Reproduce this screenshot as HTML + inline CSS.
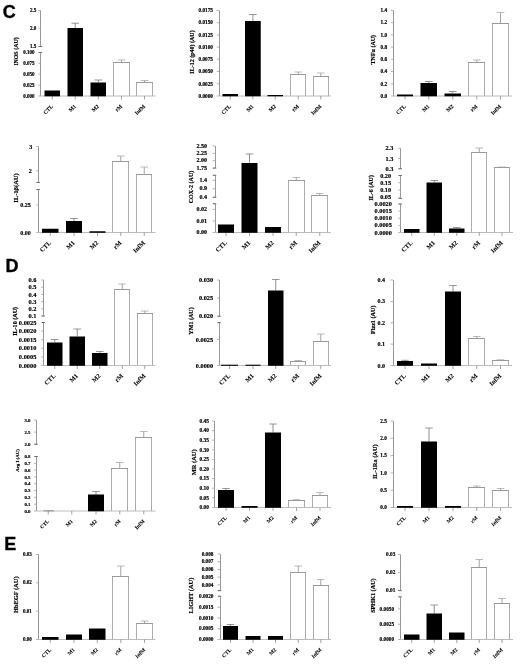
<!DOCTYPE html>
<html lang="en">
<head>
<meta charset="utf-8">
<title>Figure panels C, D, E</title>
<style>
html,body{margin:0;padding:0;background:#fff;}
body{width:520px;height:664px;overflow:hidden;}
svg{display:block;filter:blur(0.3px);}
svg text{font-family:"Liberation Serif","DejaVu Serif",serif;font-weight:bold;fill:#000;stroke:#000;stroke-width:0.18px;}
svg .xl text{stroke-width:0.08px;}
svg text.panel{font-family:"Liberation Sans","DejaVu Sans",sans-serif;font-weight:bold;stroke:#000;stroke-width:0.35px;}
</style>
</head>
<body>
<svg width="520" height="664" viewBox="0 0 520 664">
<rect width="520" height="664" fill="#fff"/>
<text class="panel" x="2.7" y="17.9" font-size="18">C</text>
<text class="panel" x="5.6" y="272.4" font-size="18">D</text>
<text class="panel" x="4.2" y="549.6" font-size="18">E</text>
<g>
<path d="M121.5 62V60" stroke="#868686" stroke-width="0.75" fill="none"/>
<path d="M117.7 60H125.3" stroke="#a4a4a4" stroke-width="0.75" fill="none"/>
<path d="M113.5 96V62.5H129.5V96" fill="#fff" stroke="#ababab" stroke-width="1"/>
<path d="M113 62.5H130" stroke="#999" stroke-width="1"/>
<path d="M144.5 82V80.5" stroke="#868686" stroke-width="0.75" fill="none"/>
<path d="M140.7 80.5H148.3" stroke="#a4a4a4" stroke-width="0.75" fill="none"/>
<path d="M136.5 96V82.5H152.5V96" fill="#fff" stroke="#ababab" stroke-width="1"/>
<path d="M136 82.5H153" stroke="#999" stroke-width="1"/>
<path d="M40.5 10.5V46.5M40.5 52.5V96" stroke="#989898" stroke-width="1" fill="none"/>
<path d="M40.8 96H155.5" stroke="#b4b4b4" stroke-width="0.9" fill="none"/>
<path d="M38.3 10.5H40.8M38.3 28.2H40.8M38.3 46.5H40.8M38.3 52.5H40.8M38.3 63.3H40.8M38.3 74.2H40.8M38.3 85.1H40.8M38.3 96H40.8" stroke="#a8a8a8" stroke-width="0.85" fill="none"/>
<path d="M52.25 96V99.4M75.25 96V99.4M98.25 96V99.4M121.5 96V99.4M144.5 96V99.4" stroke="#8a8a8a" stroke-width="0.8" fill="none"/>
<path d="M38.8 46.5H42.1M38.8 52.5H42.1" stroke="#666" stroke-width="0.9" fill="none"/>
<rect x="44.5" y="90.5" width="15.5" height="5.8" fill="#000"/>
<path d="M75.25 28V23.2" stroke="#606060" stroke-width="0.7" fill="none"/>
<path d="M71.45 23.2H79.05" stroke="#6c6c6c" stroke-width="0.7" fill="none"/>
<rect x="67.5" y="28" width="15.5" height="68.3" fill="#000"/>
<path d="M98.25 82.5V80" stroke="#606060" stroke-width="0.7" fill="none"/>
<path d="M94.45 80H102.05" stroke="#6c6c6c" stroke-width="0.7" fill="none"/>
<rect x="90.5" y="82.5" width="15.5" height="13.8" fill="#000"/>
<g font-size="5.06" text-anchor="end">
<text x="36.2" y="12.17">2.5</text>
<text x="36.2" y="29.87">2.0</text>
<text x="36.2" y="48.17">1.5</text>
<text x="34.6" y="54.17">0.100</text>
<text x="34.6" y="64.97">0.075</text>
<text x="34.6" y="75.87">0.050</text>
<text x="34.6" y="86.77">0.025</text>
<text x="34.6" y="97.67">0.000</text>
</g>
<text font-size="5.95" text-anchor="middle" transform="translate(18.21 51.25) rotate(-90)">iNOS (AU)</text>
<g class="xl" font-size="5.51" text-anchor="end">
<text transform="translate(53.45 106.7) rotate(-45)">CTL</text>
<text transform="translate(76.45 106.7) rotate(-45)">M1</text>
<text transform="translate(99.45 106.7) rotate(-45)">M2</text>
<text transform="translate(122.7 106.7) rotate(-45)">rM</text>
<text transform="translate(145.7 106.7) rotate(-45)">InfM</text>
</g>
</g>
<g>
<path d="M298.25 74.5V72" stroke="#868686" stroke-width="0.75" fill="none"/>
<path d="M294.45 72H302.05" stroke="#a4a4a4" stroke-width="0.75" fill="none"/>
<path d="M290.5 96V74.5H305.5V96" fill="#fff" stroke="#ababab" stroke-width="1"/>
<path d="M290 74.5H306" stroke="#999" stroke-width="1"/>
<path d="M320.75 76.5V73" stroke="#868686" stroke-width="0.75" fill="none"/>
<path d="M316.95 73H324.55" stroke="#a4a4a4" stroke-width="0.75" fill="none"/>
<path d="M313.5 96V76.5H328.5V96" fill="#fff" stroke="#ababab" stroke-width="1"/>
<path d="M313 76.5H329" stroke="#999" stroke-width="1"/>
<path d="M219.5 10.5V96" stroke="#989898" stroke-width="1" fill="none"/>
<path d="M219.3 96H331" stroke="#b4b4b4" stroke-width="0.9" fill="none"/>
<path d="M216.8 10.5H219.3M216.8 22.7H219.3M216.8 34.9H219.3M216.8 47.1H219.3M216.8 59.3H219.3M216.8 71.5H219.3M216.8 83.8H219.3M216.8 96H219.3" stroke="#a8a8a8" stroke-width="0.85" fill="none"/>
<path d="M230.25 96V99.4M252.88 96V99.4M275.25 96V99.4M298.25 96V99.4M320.75 96V99.4" stroke="#8a8a8a" stroke-width="0.8" fill="none"/>
<rect x="222.5" y="94" width="15.5" height="2.3" fill="#000"/>
<path d="M252.88 21V14.5" stroke="#606060" stroke-width="0.7" fill="none"/>
<path d="M249.07 14.5H256.68" stroke="#6c6c6c" stroke-width="0.7" fill="none"/>
<rect x="245" y="21" width="15.75" height="75.3" fill="#000"/>
<rect x="267.5" y="95" width="15.5" height="1.3" fill="#000"/>
<g font-size="5.28" text-anchor="end">
<text x="213" y="12.24">0.0175</text>
<text x="213" y="24.44">0.0150</text>
<text x="213" y="36.64">0.0125</text>
<text x="213" y="48.84">0.0100</text>
<text x="213" y="61.04">0.0075</text>
<text x="213" y="73.24">0.0050</text>
<text x="213" y="85.54">0.0025</text>
<text x="213" y="97.74">0.0000</text>
</g>
<text font-size="6" text-anchor="middle" transform="translate(193.88 52) rotate(-90)">IL-12 (p40) (AU)</text>
<g class="xl" font-size="5.51" text-anchor="end">
<text transform="translate(231.45 106.7) rotate(-45)">CTL</text>
<text transform="translate(254.07 106.7) rotate(-45)">M1</text>
<text transform="translate(276.45 106.7) rotate(-45)">M2</text>
<text transform="translate(299.45 106.7) rotate(-45)">rM</text>
<text transform="translate(321.95 106.7) rotate(-45)">InfM</text>
</g>
</g>
<g>
<path d="M476.75 62V60" stroke="#868686" stroke-width="0.75" fill="none"/>
<path d="M472.95 60H480.55" stroke="#a4a4a4" stroke-width="0.75" fill="none"/>
<path d="M468.5 96V62.5H484.5V96" fill="#fff" stroke="#ababab" stroke-width="1"/>
<path d="M468 62.5H485" stroke="#999" stroke-width="1"/>
<path d="M500.5 23V12.5" stroke="#868686" stroke-width="0.75" fill="none"/>
<path d="M496.7 12.5H504.3" stroke="#a4a4a4" stroke-width="0.75" fill="none"/>
<path d="M492.5 96V23.5H508.5V96" fill="#fff" stroke="#ababab" stroke-width="1"/>
<path d="M492 23.5H509" stroke="#999" stroke-width="1"/>
<path d="M393.5 10.5V96" stroke="#989898" stroke-width="1" fill="none"/>
<path d="M393.4 96H512" stroke="#b4b4b4" stroke-width="0.9" fill="none"/>
<path d="M390.9 10.5H393.4M390.9 22.7H393.4M390.9 34.9H393.4M390.9 47.1H393.4M390.9 59.3H393.4M390.9 71.5H393.4M390.9 83.8H393.4M390.9 96H393.4" stroke="#a8a8a8" stroke-width="0.85" fill="none"/>
<path d="M405 96V99.4M428.75 96V99.4M452.75 96V99.4M476.75 96V99.4M500.5 96V99.4" stroke="#8a8a8a" stroke-width="0.8" fill="none"/>
<rect x="397" y="94.5" width="16" height="1.8" fill="#000"/>
<path d="M428.75 83V81.5" stroke="#606060" stroke-width="0.7" fill="none"/>
<path d="M424.95 81.5H432.55" stroke="#6c6c6c" stroke-width="0.7" fill="none"/>
<rect x="420.5" y="83" width="16.5" height="13.3" fill="#000"/>
<path d="M452.75 93.5V91.5" stroke="#606060" stroke-width="0.7" fill="none"/>
<path d="M448.95 91.5H456.55" stroke="#6c6c6c" stroke-width="0.7" fill="none"/>
<rect x="444.5" y="93.5" width="16.5" height="2.8" fill="#000"/>
<g font-size="5.28" text-anchor="end">
<text x="387.1" y="12.24">1.4</text>
<text x="387.1" y="24.44">1.2</text>
<text x="387.1" y="36.64">1.0</text>
<text x="387.1" y="48.84">0.8</text>
<text x="387.1" y="61.04">0.6</text>
<text x="387.1" y="73.24">0.4</text>
<text x="387.1" y="85.54">0.2</text>
<text x="387.1" y="97.74">0.0</text>
</g>
<text font-size="6" text-anchor="middle" transform="translate(374.98 49.7) rotate(-90)">TNFα (AU)</text>
<g class="xl" font-size="5.51" text-anchor="end">
<text transform="translate(406.2 106.7) rotate(-45)">CTL</text>
<text transform="translate(429.95 106.7) rotate(-45)">M1</text>
<text transform="translate(453.95 106.7) rotate(-45)">M2</text>
<text transform="translate(477.95 106.7) rotate(-45)">rM</text>
<text transform="translate(501.7 106.7) rotate(-45)">InfM</text>
</g>
</g>
<g>
<path d="M120.75 161V156" stroke="#868686" stroke-width="0.75" fill="none"/>
<path d="M116.95 156H124.55" stroke="#a4a4a4" stroke-width="0.75" fill="none"/>
<path d="M112.5 232.5V161.5H128.5V232.5" fill="#fff" stroke="#ababab" stroke-width="1"/>
<path d="M112 161.5H129" stroke="#999" stroke-width="1"/>
<path d="M144.25 174V167" stroke="#868686" stroke-width="0.75" fill="none"/>
<path d="M140.45 167H148.05" stroke="#a4a4a4" stroke-width="0.75" fill="none"/>
<path d="M136.5 232.5V174.5H151.5V232.5" fill="#fff" stroke="#ababab" stroke-width="1"/>
<path d="M136 174.5H152" stroke="#999" stroke-width="1"/>
<path d="M38.5 146.5V182.5M38.5 189.5V232.5" stroke="#989898" stroke-width="1" fill="none"/>
<path d="M38.7 232.5H155.5" stroke="#b4b4b4" stroke-width="0.9" fill="none"/>
<path d="M36.2 146.5H38.7M36.2 170.75H38.7M36.2 182.5H38.7M36.2 189.5H38.7M36.2 205H38.7M36.2 232.5H38.7" stroke="#a8a8a8" stroke-width="0.85" fill="none"/>
<path d="M50.25 232.5V235.9M74 232.5V235.9M97.5 232.5V235.9M120.75 232.5V235.9M144.25 232.5V235.9" stroke="#8a8a8a" stroke-width="0.8" fill="none"/>
<path d="M36.7 182.5H40M36.7 189.5H40" stroke="#666" stroke-width="0.9" fill="none"/>
<rect x="42" y="228.75" width="16.5" height="4.05" fill="#000"/>
<path d="M74 221V218.5" stroke="#606060" stroke-width="0.7" fill="none"/>
<path d="M70.2 218.5H77.8" stroke="#6c6c6c" stroke-width="0.7" fill="none"/>
<rect x="66" y="221" width="16" height="11.8" fill="#000"/>
<rect x="89.5" y="231.25" width="16" height="1.55" fill="#000"/>
<g font-size="6.05" text-anchor="end">
<text x="32.2" y="148.5">3</text>
<text x="31.9" y="172.75">2</text>
<text x="30.8" y="207">0.25</text>
<text x="30.8" y="234.5">0.00</text>
</g>
<text font-size="6.5" text-anchor="middle" transform="translate(17.64 188) rotate(-90)">IL-1β(AU)</text>
<g class="xl" font-size="6.36" text-anchor="end">
<text transform="translate(51.45 243.2) rotate(-45)">CTL</text>
<text transform="translate(75.2 243.2) rotate(-45)">M1</text>
<text transform="translate(98.7 243.2) rotate(-45)">M2</text>
<text transform="translate(121.95 243.2) rotate(-45)">rM</text>
<text transform="translate(145.45 243.2) rotate(-45)">InfM</text>
</g>
</g>
<g>
<path d="M296.25 180.5V177.5" stroke="#868686" stroke-width="0.75" fill="none"/>
<path d="M292.45 177.5H300.05" stroke="#a4a4a4" stroke-width="0.75" fill="none"/>
<path d="M288.5 232.5V180.5H304.5V232.5" fill="#fff" stroke="#ababab" stroke-width="1"/>
<path d="M288 180.5H305" stroke="#999" stroke-width="1"/>
<path d="M319.75 195.5V193.5" stroke="#868686" stroke-width="0.75" fill="none"/>
<path d="M315.95 193.5H323.55" stroke="#a4a4a4" stroke-width="0.75" fill="none"/>
<path d="M311.5 232.5V195.5H327.5V232.5" fill="#fff" stroke="#ababab" stroke-width="1"/>
<path d="M311 195.5H328" stroke="#999" stroke-width="1"/>
<path d="M215.5 146V168.1M215.5 175.25V197.25M215.5 203.75V232.5" stroke="#989898" stroke-width="1" fill="none"/>
<path d="M215 232.5H331" stroke="#b4b4b4" stroke-width="0.9" fill="none"/>
<path d="M212.5 146H215M212.5 153.4H215M212.5 160.7H215M212.5 168.1H215M212.5 175.25H215M212.5 180.3H215M212.5 188.8H215M212.5 197.25H215M212.5 203.75H215M212.5 209.4H215M212.5 221H215M212.5 232.5H215" stroke="#a8a8a8" stroke-width="0.85" fill="none"/>
<path d="M226 232.5V235.9M249.5 232.5V235.9M273 232.5V235.9M296.25 232.5V235.9M319.75 232.5V235.9" stroke="#8a8a8a" stroke-width="0.8" fill="none"/>
<path d="M213 168.1H216.3M213 175.25H216.3M213 197.25H216.3M213 203.75H216.3" stroke="#666" stroke-width="0.9" fill="none"/>
<rect x="218" y="224.5" width="16" height="8.3" fill="#000"/>
<path d="M249.5 163V154" stroke="#606060" stroke-width="0.7" fill="none"/>
<path d="M245.7 154H253.3" stroke="#6c6c6c" stroke-width="0.7" fill="none"/>
<rect x="241.5" y="163" width="16" height="69.8" fill="#000"/>
<rect x="265" y="227" width="16" height="5.8" fill="#000"/>
<g font-size="6.05" text-anchor="end">
<text x="207" y="147.5">2.50</text>
<text x="207" y="154.9">2.25</text>
<text x="207" y="162.2">2.00</text>
<text x="207" y="169.6">1.75</text>
<text x="207" y="181.8">1.4</text>
<text x="207" y="190.3">0.9</text>
<text x="207" y="198.75">0.4</text>
<text x="207" y="210.9">0.02</text>
<text x="207" y="222.5">0.01</text>
<text x="207" y="234">0.00</text>
</g>
<text font-size="6" text-anchor="middle" transform="translate(192.58 187) rotate(-90)">COX-2 (AU)</text>
<g class="xl" font-size="6.36" text-anchor="end">
<text transform="translate(227.2 243.2) rotate(-45)">CTL</text>
<text transform="translate(250.7 243.2) rotate(-45)">M1</text>
<text transform="translate(274.2 243.2) rotate(-45)">M2</text>
<text transform="translate(297.45 243.2) rotate(-45)">rM</text>
<text transform="translate(320.95 243.2) rotate(-45)">InfM</text>
</g>
</g>
<g>
<path d="M479.25 152V148" stroke="#868686" stroke-width="0.75" fill="none"/>
<path d="M475.45 148H483.05" stroke="#a4a4a4" stroke-width="0.75" fill="none"/>
<path d="M471.5 232.5V152.5H486.5V232.5" fill="#fff" stroke="#ababab" stroke-width="1"/>
<path d="M471 152.5H487" stroke="#999" stroke-width="1"/>
<path d="M502 167.5V167" stroke="#868686" stroke-width="0.75" fill="none"/>
<path d="M498.2 167H505.8" stroke="#a4a4a4" stroke-width="0.75" fill="none"/>
<path d="M494.5 232.5V167.5H509.5V232.5" fill="#fff" stroke="#ababab" stroke-width="1"/>
<path d="M494 167.5H510" stroke="#999" stroke-width="1"/>
<path d="M400.5 148.25V168.75M400.5 175.5V198.5M400.5 204V232.5" stroke="#989898" stroke-width="1" fill="none"/>
<path d="M400.7 232.5H513" stroke="#b4b4b4" stroke-width="0.9" fill="none"/>
<path d="M398.2 148.25H400.7M398.2 158.5H400.7M398.2 168.75H400.7M398.2 175.5H400.7M398.2 182.75H400.7M398.2 190H400.7M398.2 197.2H400.7M398.2 204H400.7M398.2 211.1H400.7M398.2 218.25H400.7M398.2 225.4H400.7M398.2 232.5H400.7" stroke="#a8a8a8" stroke-width="0.85" fill="none"/>
<path d="M411.75 232.5V235.9M434.25 232.5V235.9M456.75 232.5V235.9M479.25 232.5V235.9M502 232.5V235.9" stroke="#8a8a8a" stroke-width="0.8" fill="none"/>
<path d="M398.7 168.75H402M398.7 175.5H402M398.7 198.5H402M398.7 204H402" stroke="#666" stroke-width="0.9" fill="none"/>
<rect x="404" y="229" width="15.5" height="3.8" fill="#000"/>
<path d="M434.25 182.5V180.5" stroke="#606060" stroke-width="0.7" fill="none"/>
<path d="M430.45 180.5H438.05" stroke="#6c6c6c" stroke-width="0.7" fill="none"/>
<rect x="426.5" y="182.5" width="15.5" height="50.3" fill="#000"/>
<path d="M456.75 228.5V227.5" stroke="#606060" stroke-width="0.7" fill="none"/>
<path d="M452.95 227.5H460.55" stroke="#6c6c6c" stroke-width="0.7" fill="none"/>
<rect x="449" y="228.5" width="15.5" height="4.3" fill="#000"/>
<g font-size="6.27" text-anchor="end">
<text x="393.3" y="150.32">2.3</text>
<text x="393.3" y="160.57">1.3</text>
<text x="393.3" y="170.82">0.3</text>
<text x="391.1" y="177.57">0.20</text>
<text x="391.1" y="184.82">0.15</text>
<text x="391.1" y="192.07">0.10</text>
<text x="391.1" y="199.27">0.05</text>
<text x="391.8" y="206.07">0.0020</text>
<text x="391.8" y="213.17">0.0015</text>
<text x="391.8" y="220.32">0.0010</text>
<text x="391.8" y="227.47">0.0005</text>
<text x="391.8" y="234.57">0.0000</text>
</g>
<text font-size="6" text-anchor="middle" transform="translate(372.98 187.8) rotate(-90)">IL-6 (AU)</text>
<g class="xl" font-size="6.36" text-anchor="end">
<text transform="translate(412.95 243.2) rotate(-45)">CTL</text>
<text transform="translate(435.45 243.2) rotate(-45)">M1</text>
<text transform="translate(457.95 243.2) rotate(-45)">M2</text>
<text transform="translate(480.45 243.2) rotate(-45)">rM</text>
<text transform="translate(503.2 243.2) rotate(-45)">InfM</text>
</g>
</g>
<g>
<path d="M122.25 289.5V284" stroke="#868686" stroke-width="0.75" fill="none"/>
<path d="M118.45 284H126.05" stroke="#a4a4a4" stroke-width="0.75" fill="none"/>
<path d="M114.5 365.5V289.5H129.5V365.5" fill="#fff" stroke="#ababab" stroke-width="1"/>
<path d="M114 289.5H130" stroke="#999" stroke-width="1"/>
<path d="M144.75 313V311" stroke="#868686" stroke-width="0.75" fill="none"/>
<path d="M140.95 311H148.55" stroke="#a4a4a4" stroke-width="0.75" fill="none"/>
<path d="M137.5 365.5V313.5H152.5V365.5" fill="#fff" stroke="#ababab" stroke-width="1"/>
<path d="M137 313.5H153" stroke="#999" stroke-width="1"/>
<path d="M43.5 280V316M43.5 322.5V365.5" stroke="#989898" stroke-width="1" fill="none"/>
<path d="M43.7 365.5H155.5" stroke="#b4b4b4" stroke-width="0.9" fill="none"/>
<path d="M41.2 280H43.7M41.2 287.2H43.7M41.2 294.4H43.7M41.2 301.6H43.7M41.2 308.8H43.7M41.2 316H43.7M41.2 322.5H43.7M41.2 331.1H43.7M41.2 339.7H43.7M41.2 348.3H43.7M41.2 356.9H43.7M41.2 365.5H43.7" stroke="#a8a8a8" stroke-width="0.85" fill="none"/>
<path d="M54.75 365.5V368.9M77.25 365.5V368.9M99.75 365.5V368.9M122.25 365.5V368.9M144.75 365.5V368.9" stroke="#8a8a8a" stroke-width="0.8" fill="none"/>
<path d="M41.7 316H45M41.7 322.5H45" stroke="#666" stroke-width="0.9" fill="none"/>
<path d="M54.75 342.5V339.5" stroke="#606060" stroke-width="0.7" fill="none"/>
<path d="M50.95 339.5H58.55" stroke="#6c6c6c" stroke-width="0.7" fill="none"/>
<rect x="47" y="342.5" width="15.5" height="23.3" fill="#000"/>
<path d="M77.25 336.5V329" stroke="#606060" stroke-width="0.7" fill="none"/>
<path d="M73.45 329H81.05" stroke="#6c6c6c" stroke-width="0.7" fill="none"/>
<rect x="69.5" y="336.5" width="15.5" height="29.3" fill="#000"/>
<path d="M99.75 353V351.5" stroke="#606060" stroke-width="0.7" fill="none"/>
<path d="M95.95 351.5H103.55" stroke="#6c6c6c" stroke-width="0.7" fill="none"/>
<rect x="92" y="353" width="15.5" height="12.8" fill="#000"/>
<g font-size="6.38" text-anchor="end">
<text x="36.4" y="282.11">0.6</text>
<text x="36.4" y="289.31">0.5</text>
<text x="36.4" y="296.51">0.4</text>
<text x="36.4" y="303.71">0.3</text>
<text x="36.4" y="310.91">0.2</text>
<text x="36.4" y="318.11">0.1</text>
<text x="36.4" y="324.61">0.0025</text>
<text x="36.4" y="333.21">0.0020</text>
<text x="36.4" y="341.81">0.0015</text>
<text x="36.4" y="350.41">0.0010</text>
<text x="36.4" y="359.01">0.0005</text>
<text x="36.4" y="367.61">0.0000</text>
</g>
<text font-size="6.1" text-anchor="middle" transform="translate(16.51 321.4) rotate(-90)">IL-10 (AU)</text>
<g class="xl" font-size="6.36" text-anchor="end">
<text transform="translate(55.95 376.2) rotate(-45)">CTL</text>
<text transform="translate(78.45 376.2) rotate(-45)">M1</text>
<text transform="translate(100.95 376.2) rotate(-45)">M2</text>
<text transform="translate(123.45 376.2) rotate(-45)">rM</text>
<text transform="translate(145.95 376.2) rotate(-45)">InfM</text>
</g>
</g>
<g>
<path d="M298.25 361.5V360.5" stroke="#868686" stroke-width="0.75" fill="none"/>
<path d="M294.45 360.5H302.05" stroke="#a4a4a4" stroke-width="0.75" fill="none"/>
<path d="M290.5 365.5V361.5H305.5V365.5" fill="#fff" stroke="#ababab" stroke-width="1"/>
<path d="M290 361.5H306" stroke="#999" stroke-width="1"/>
<path d="M320.75 341.5V334" stroke="#868686" stroke-width="0.75" fill="none"/>
<path d="M316.95 334H324.55" stroke="#a4a4a4" stroke-width="0.75" fill="none"/>
<path d="M313.5 365.5V341.5H328.5V365.5" fill="#fff" stroke="#ababab" stroke-width="1"/>
<path d="M313 341.5H329" stroke="#999" stroke-width="1"/>
<path d="M219.5 280V316.25M219.5 322.6V365.5" stroke="#989898" stroke-width="1" fill="none"/>
<path d="M219.5 365.5H331" stroke="#b4b4b4" stroke-width="0.9" fill="none"/>
<path d="M217 280H219.5M217 298.1H219.5M217 316.25H219.5M217 322.6H219.5M217 339.5H219.5M217 365.5H219.5" stroke="#a8a8a8" stroke-width="0.85" fill="none"/>
<path d="M229.5 365.5V368.9M253 365.5V368.9M275.75 365.5V368.9M298.25 365.5V368.9M320.75 365.5V368.9" stroke="#8a8a8a" stroke-width="0.8" fill="none"/>
<path d="M217.5 316.25H220.8M217.5 322.6H220.8" stroke="#666" stroke-width="0.9" fill="none"/>
<rect x="221" y="364.7" width="17" height="1.1" fill="#000"/>
<rect x="245.5" y="364.7" width="15" height="1.1" fill="#000"/>
<path d="M275.75 290.5V279.5" stroke="#606060" stroke-width="0.7" fill="none"/>
<path d="M271.95 279.5H279.55" stroke="#6c6c6c" stroke-width="0.7" fill="none"/>
<rect x="268" y="290.5" width="15.5" height="75.3" fill="#000"/>
<g font-size="6.27" text-anchor="end">
<text x="213.1" y="282.07">0.030</text>
<text x="213.1" y="300.17">0.025</text>
<text x="213.1" y="318.32">0.020</text>
<text x="213.1" y="341.57">0.0025</text>
<text x="213.1" y="367.57">0.0000</text>
</g>
<text font-size="6.05" text-anchor="middle" transform="translate(192.6 321) rotate(-90)">YM1 (AU)</text>
<g class="xl" font-size="6.36" text-anchor="end">
<text transform="translate(230.7 376.2) rotate(-45)">CTL</text>
<text transform="translate(254.2 376.2) rotate(-45)">M1</text>
<text transform="translate(276.95 376.2) rotate(-45)">M2</text>
<text transform="translate(299.45 376.2) rotate(-45)">rM</text>
<text transform="translate(321.95 376.2) rotate(-45)">InfM</text>
</g>
</g>
<g>
<path d="M476.75 338.5V336.5" stroke="#868686" stroke-width="0.75" fill="none"/>
<path d="M472.95 336.5H480.55" stroke="#a4a4a4" stroke-width="0.75" fill="none"/>
<path d="M468.5 365.5V338.5H484.5V365.5" fill="#fff" stroke="#ababab" stroke-width="1"/>
<path d="M468 338.5H485" stroke="#999" stroke-width="1"/>
<path d="M500.5 360.5V359.8" stroke="#868686" stroke-width="0.75" fill="none"/>
<path d="M496.7 359.8H504.3" stroke="#a4a4a4" stroke-width="0.75" fill="none"/>
<path d="M492.5 365.5V360.5H508.5V365.5" fill="#fff" stroke="#ababab" stroke-width="1"/>
<path d="M492 360.5H509" stroke="#999" stroke-width="1"/>
<path d="M393.5 280V365.5" stroke="#989898" stroke-width="1" fill="none"/>
<path d="M393 365.5H512" stroke="#b4b4b4" stroke-width="0.9" fill="none"/>
<path d="M390.5 280H393M390.5 301.4H393M390.5 322.75H393M390.5 344.1H393M390.5 365.5H393" stroke="#a8a8a8" stroke-width="0.85" fill="none"/>
<path d="M405 365.5V368.9M429 365.5V368.9M453 365.5V368.9M476.75 365.5V368.9M500.5 365.5V368.9" stroke="#8a8a8a" stroke-width="0.8" fill="none"/>
<path d="M405 361V360.3" stroke="#606060" stroke-width="0.7" fill="none"/>
<path d="M401.2 360.3H408.8" stroke="#6c6c6c" stroke-width="0.7" fill="none"/>
<rect x="397" y="361" width="16" height="4.8" fill="#000"/>
<rect x="421" y="363.5" width="16" height="2.3" fill="#000"/>
<path d="M453 291.5V285.5" stroke="#606060" stroke-width="0.7" fill="none"/>
<path d="M449.2 285.5H456.8" stroke="#6c6c6c" stroke-width="0.7" fill="none"/>
<rect x="445" y="291.5" width="16" height="74.3" fill="#000"/>
<g font-size="6.05" text-anchor="end">
<text x="385" y="282">0.4</text>
<text x="385" y="303.4">0.3</text>
<text x="385" y="324.75">0.2</text>
<text x="385" y="346.1">0.1</text>
<text x="385" y="367.5">0.0</text>
</g>
<text font-size="6.15" text-anchor="middle" transform="translate(374.63 319.8) rotate(-90)">Fizz1 (AU)</text>
<g class="xl" font-size="6.36" text-anchor="end">
<text transform="translate(406.2 376.2) rotate(-45)">CTL</text>
<text transform="translate(430.2 376.2) rotate(-45)">M1</text>
<text transform="translate(454.2 376.2) rotate(-45)">M2</text>
<text transform="translate(477.95 376.2) rotate(-45)">rM</text>
<text transform="translate(501.7 376.2) rotate(-45)">InfM</text>
</g>
</g>
<g>
<path d="M119.75 468V462.5" stroke="#868686" stroke-width="0.75" fill="none"/>
<path d="M115.95 462.5H123.55" stroke="#a4a4a4" stroke-width="0.75" fill="none"/>
<path d="M111.5 511V468.5H127.5V511" fill="#fff" stroke="#ababab" stroke-width="1"/>
<path d="M111 468.5H128" stroke="#999" stroke-width="1"/>
<path d="M143.75 437V431.5" stroke="#868686" stroke-width="0.75" fill="none"/>
<path d="M139.95 431.5H147.55" stroke="#a4a4a4" stroke-width="0.75" fill="none"/>
<path d="M135.5 511V437.5H151.5V511" fill="#fff" stroke="#ababab" stroke-width="1"/>
<path d="M135 437.5H152" stroke="#999" stroke-width="1"/>
<path d="M36.5 420V444.25M36.5 456.5V511" stroke="#989898" stroke-width="1" fill="none"/>
<path d="M36.5 511H155.5" stroke="#b4b4b4" stroke-width="0.9" fill="none"/>
<path d="M34 420H36.5M34 432.1H36.5M34 444.25H36.5M34 456.5H36.5M34 463.3H36.5M34 470.1H36.5M34 476.9H36.5M34 483.75H36.5M34 490.6H36.5M34 497.4H36.5M34 504.2H36.5M34 511H36.5" stroke="#a8a8a8" stroke-width="0.85" fill="none"/>
<path d="M48.25 511V514.4M71.75 511V514.4M96 511V514.4M119.75 511V514.4M143.75 511V514.4" stroke="#8a8a8a" stroke-width="0.8" fill="none"/>
<path d="M34.5 444.25H37.8M34.5 456.5H37.8" stroke="#666" stroke-width="0.9" fill="none"/>
<rect x="43.5" y="510.3" width="10.5" height="1" fill="#8a8a8a"/>
<path d="M96 494.5V491.5" stroke="#606060" stroke-width="0.7" fill="none"/>
<path d="M92.2 491.5H99.8" stroke="#6c6c6c" stroke-width="0.7" fill="none"/>
<rect x="88" y="494.5" width="16" height="16.8" fill="#000"/>
<g font-size="4.84" text-anchor="end">
<text x="30.5" y="421.6">3.0</text>
<text x="30.5" y="433.7">2.5</text>
<text x="30.5" y="445.85">2.0</text>
<text x="30.5" y="458.1">0.8</text>
<text x="30.5" y="464.9">0.7</text>
<text x="30.5" y="471.7">0.6</text>
<text x="30.5" y="478.5">0.5</text>
<text x="30.5" y="485.35">0.4</text>
<text x="30.5" y="492.2">0.3</text>
<text x="30.5" y="499">0.2</text>
<text x="30.5" y="505.8">0.1</text>
<text x="30.5" y="512.6">0.0</text>
</g>
<text font-size="4.85" text-anchor="middle" transform="translate(18.5 460.5) rotate(-90)">Arg I (AU)</text>
<g class="xl" font-size="5.09" text-anchor="end">
<text transform="translate(49.45 521.7) rotate(-45)">CTL</text>
<text transform="translate(72.95 521.7) rotate(-45)">M1</text>
<text transform="translate(97.2 521.7) rotate(-45)">M2</text>
<text transform="translate(120.95 521.7) rotate(-45)">rM</text>
<text transform="translate(144.95 521.7) rotate(-45)">InfM</text>
</g>
</g>
<g>
<path d="M296.5 500.5V499.7" stroke="#868686" stroke-width="0.75" fill="none"/>
<path d="M292.7 499.7H300.3" stroke="#a4a4a4" stroke-width="0.75" fill="none"/>
<path d="M288.5 507.5V500.5H304.5V507.5" fill="#fff" stroke="#ababab" stroke-width="1"/>
<path d="M288 500.5H305" stroke="#999" stroke-width="1"/>
<path d="M320 495.5V492.5" stroke="#868686" stroke-width="0.75" fill="none"/>
<path d="M316.2 492.5H323.8" stroke="#a4a4a4" stroke-width="0.75" fill="none"/>
<path d="M312.5 507.5V495.5H327.5V507.5" fill="#fff" stroke="#ababab" stroke-width="1"/>
<path d="M312 495.5H328" stroke="#999" stroke-width="1"/>
<path d="M214.5 421V507.5" stroke="#989898" stroke-width="1" fill="none"/>
<path d="M214.5 507.5H331" stroke="#b4b4b4" stroke-width="0.9" fill="none"/>
<path d="M212 421H214.5M212 430.6H214.5M212 440.2H214.5M212 449.8H214.5M212 459.4H214.5M212 469H214.5M212 478.6H214.5M212 488.2H214.5M212 497.8H214.5M212 507.5H214.5" stroke="#a8a8a8" stroke-width="0.85" fill="none"/>
<path d="M226 507.5V510.9M249.5 507.5V510.9M273 507.5V510.9M296.5 507.5V510.9M320 507.5V510.9" stroke="#8a8a8a" stroke-width="0.8" fill="none"/>
<path d="M226 490V488.5" stroke="#606060" stroke-width="0.7" fill="none"/>
<path d="M222.2 488.5H229.8" stroke="#6c6c6c" stroke-width="0.7" fill="none"/>
<rect x="218" y="490" width="16" height="17.8" fill="#000"/>
<rect x="241.5" y="506" width="16" height="1.8" fill="#000"/>
<path d="M273 432.5V424" stroke="#606060" stroke-width="0.7" fill="none"/>
<path d="M269.2 424H276.8" stroke="#6c6c6c" stroke-width="0.7" fill="none"/>
<rect x="265" y="432.5" width="16" height="75.3" fill="#000"/>
<g font-size="5.39" text-anchor="end">
<text x="208.9" y="422.78">0.45</text>
<text x="208.9" y="432.38">0.40</text>
<text x="208.9" y="441.98">0.35</text>
<text x="208.9" y="451.58">0.30</text>
<text x="208.9" y="461.18">0.25</text>
<text x="208.9" y="470.78">0.20</text>
<text x="208.9" y="480.38">0.15</text>
<text x="208.9" y="489.98">0.10</text>
<text x="208.9" y="499.58">0.05</text>
<text x="208.9" y="509.28">0.00</text>
</g>
<text font-size="6.4" text-anchor="middle" transform="translate(196.11 462.3) rotate(-90)">MR (AU)</text>
<g class="xl" font-size="5.3" text-anchor="end">
<text transform="translate(227.2 518.2) rotate(-45)">CTL</text>
<text transform="translate(250.7 518.2) rotate(-45)">M1</text>
<text transform="translate(274.2 518.2) rotate(-45)">M2</text>
<text transform="translate(297.7 518.2) rotate(-45)">rM</text>
<text transform="translate(321.2 518.2) rotate(-45)">InfM</text>
</g>
</g>
<g>
<path d="M476.75 487.5V486" stroke="#868686" stroke-width="0.75" fill="none"/>
<path d="M472.95 486H480.55" stroke="#a4a4a4" stroke-width="0.75" fill="none"/>
<path d="M468.5 507.5V487.5H484.5V507.5" fill="#fff" stroke="#ababab" stroke-width="1"/>
<path d="M468 487.5H485" stroke="#999" stroke-width="1"/>
<path d="M500.5 490.5V488.5" stroke="#868686" stroke-width="0.75" fill="none"/>
<path d="M496.7 488.5H504.3" stroke="#a4a4a4" stroke-width="0.75" fill="none"/>
<path d="M492.5 507.5V490.5H508.5V507.5" fill="#fff" stroke="#ababab" stroke-width="1"/>
<path d="M492 490.5H509" stroke="#999" stroke-width="1"/>
<path d="M393.5 421V507.5" stroke="#989898" stroke-width="1" fill="none"/>
<path d="M393 507.5H512" stroke="#b4b4b4" stroke-width="0.9" fill="none"/>
<path d="M390.5 421H393M390.5 438.3H393M390.5 455.6H393M390.5 472.9H393M390.5 490.2H393M390.5 507.5H393" stroke="#a8a8a8" stroke-width="0.85" fill="none"/>
<path d="M405 507.5V510.9M429 507.5V510.9M453 507.5V510.9M476.75 507.5V510.9M500.5 507.5V510.9" stroke="#8a8a8a" stroke-width="0.8" fill="none"/>
<rect x="397" y="506" width="16" height="1.8" fill="#000"/>
<path d="M429 441.5V428" stroke="#606060" stroke-width="0.7" fill="none"/>
<path d="M425.2 428H432.8" stroke="#6c6c6c" stroke-width="0.7" fill="none"/>
<rect x="421" y="441.5" width="16" height="66.3" fill="#000"/>
<rect x="445" y="506" width="16" height="1.8" fill="#000"/>
<g font-size="5.28" text-anchor="end">
<text x="386.9" y="422.74">2.5</text>
<text x="386.9" y="440.04">2.0</text>
<text x="386.9" y="457.34">1.5</text>
<text x="386.9" y="474.64">1.0</text>
<text x="386.9" y="491.94">0.5</text>
<text x="386.9" y="509.24">0.0</text>
</g>
<text font-size="6.35" text-anchor="middle" transform="translate(377.1 461.75) rotate(-90)">IL-1Ra (AU)</text>
<g class="xl" font-size="5.3" text-anchor="end">
<text transform="translate(406.2 518.2) rotate(-45)">CTL</text>
<text transform="translate(430.2 518.2) rotate(-45)">M1</text>
<text transform="translate(454.2 518.2) rotate(-45)">M2</text>
<text transform="translate(477.95 518.2) rotate(-45)">rM</text>
<text transform="translate(501.7 518.2) rotate(-45)">InfM</text>
</g>
</g>
<g>
<path d="M120.75 576V566" stroke="#868686" stroke-width="0.75" fill="none"/>
<path d="M116.95 566H124.55" stroke="#a4a4a4" stroke-width="0.75" fill="none"/>
<path d="M112.5 639.5V576.5H128.5V639.5" fill="#fff" stroke="#ababab" stroke-width="1"/>
<path d="M112 576.5H129" stroke="#999" stroke-width="1"/>
<path d="M144.5 623.5V621" stroke="#868686" stroke-width="0.75" fill="none"/>
<path d="M140.7 621H148.3" stroke="#a4a4a4" stroke-width="0.75" fill="none"/>
<path d="M136.5 639.5V623.5H152.5V639.5" fill="#fff" stroke="#ababab" stroke-width="1"/>
<path d="M136 623.5H153" stroke="#999" stroke-width="1"/>
<path d="M38.5 554.5V639.5" stroke="#989898" stroke-width="1" fill="none"/>
<path d="M38.5 639.5H155.5" stroke="#b4b4b4" stroke-width="0.9" fill="none"/>
<path d="M36 554.5H38.5M36 582.8H38.5M36 611.2H38.5M36 639.5H38.5" stroke="#a8a8a8" stroke-width="0.85" fill="none"/>
<path d="M50.25 639.5V642.9M74 639.5V642.9M97.25 639.5V642.9M120.75 639.5V642.9M144.5 639.5V642.9" stroke="#8a8a8a" stroke-width="0.8" fill="none"/>
<rect x="42" y="637" width="16.5" height="2.8" fill="#000"/>
<rect x="66" y="634.5" width="16" height="5.3" fill="#000"/>
<rect x="89" y="628.5" width="16.5" height="11.3" fill="#000"/>
<g font-size="5.06" text-anchor="end">
<text x="31.9" y="556.17">0.03</text>
<text x="31.9" y="584.47">0.02</text>
<text x="31.9" y="612.87">0.01</text>
<text x="31.9" y="641.17">0.00</text>
</g>
<text font-size="6.4" text-anchor="middle" transform="translate(17.71 594.7) rotate(-90)">HbEGF (AU)</text>
<g class="xl" font-size="5.3" text-anchor="end">
<text transform="translate(51.45 650.2) rotate(-45)">CTL</text>
<text transform="translate(75.2 650.2) rotate(-45)">M1</text>
<text transform="translate(98.45 650.2) rotate(-45)">M2</text>
<text transform="translate(121.95 650.2) rotate(-45)">rM</text>
<text transform="translate(145.7 650.2) rotate(-45)">InfM</text>
</g>
</g>
<g>
<path d="M298.25 572.5V566" stroke="#868686" stroke-width="0.75" fill="none"/>
<path d="M294.45 566H302.05" stroke="#a4a4a4" stroke-width="0.75" fill="none"/>
<path d="M290.5 639.5V572.5H305.5V639.5" fill="#fff" stroke="#ababab" stroke-width="1"/>
<path d="M290 572.5H306" stroke="#999" stroke-width="1"/>
<path d="M320.75 585.5V579.5" stroke="#868686" stroke-width="0.75" fill="none"/>
<path d="M316.95 579.5H324.55" stroke="#a4a4a4" stroke-width="0.75" fill="none"/>
<path d="M313.5 639.5V585.5H328.5V639.5" fill="#fff" stroke="#ababab" stroke-width="1"/>
<path d="M313 585.5H329" stroke="#999" stroke-width="1"/>
<path d="M220.5 554V590.6M220.5 596.25V639.5" stroke="#989898" stroke-width="1" fill="none"/>
<path d="M220 639.5H331" stroke="#b4b4b4" stroke-width="0.9" fill="none"/>
<path d="M217.5 554H220M217.5 561.7H220M217.5 569.4H220M217.5 577.1H220M217.5 584.8H220M217.5 590.6H220M217.5 596.25H220M217.5 607.25H220M217.5 618H220M217.5 628.75H220M217.5 639.5H220" stroke="#a8a8a8" stroke-width="0.85" fill="none"/>
<path d="M230.5 639.5V642.9M253 639.5V642.9M275.5 639.5V642.9M298.25 639.5V642.9M320.75 639.5V642.9" stroke="#8a8a8a" stroke-width="0.8" fill="none"/>
<path d="M218 590.6H221.3M218 596.25H221.3" stroke="#666" stroke-width="0.9" fill="none"/>
<path d="M230.5 626V624.5" stroke="#606060" stroke-width="0.7" fill="none"/>
<path d="M226.7 624.5H234.3" stroke="#6c6c6c" stroke-width="0.7" fill="none"/>
<rect x="223" y="626" width="15" height="13.8" fill="#000"/>
<rect x="245.5" y="636" width="15" height="3.8" fill="#000"/>
<rect x="268" y="636" width="15" height="3.8" fill="#000"/>
<g font-size="5.28" text-anchor="end">
<text x="213.5" y="555.74">0.008</text>
<text x="213.5" y="563.44">0.007</text>
<text x="213.5" y="571.14">0.006</text>
<text x="213.5" y="578.84">0.005</text>
<text x="213.5" y="586.54">0.004</text>
<text x="213.5" y="597.99">0.0020</text>
<text x="213.5" y="608.99">0.0015</text>
<text x="213.5" y="619.74">0.0010</text>
<text x="213.5" y="630.49">0.0005</text>
<text x="213.5" y="641.24">0.0000</text>
</g>
<text font-size="6.36" text-anchor="middle" transform="translate(193.35 595.6) rotate(-90)">LIGHT (AU)</text>
<g class="xl" font-size="5.3" text-anchor="end">
<text transform="translate(231.7 650.2) rotate(-45)">CTL</text>
<text transform="translate(254.2 650.2) rotate(-45)">M1</text>
<text transform="translate(276.7 650.2) rotate(-45)">M2</text>
<text transform="translate(299.45 650.2) rotate(-45)">rM</text>
<text transform="translate(321.95 650.2) rotate(-45)">InfM</text>
</g>
</g>
<g>
<path d="M479.25 567.5V559.5" stroke="#868686" stroke-width="0.75" fill="none"/>
<path d="M475.45 559.5H483.05" stroke="#a4a4a4" stroke-width="0.75" fill="none"/>
<path d="M471.5 639.5V567.5H486.5V639.5" fill="#fff" stroke="#ababab" stroke-width="1"/>
<path d="M471 567.5H487" stroke="#999" stroke-width="1"/>
<path d="M502 603.5V598.5" stroke="#868686" stroke-width="0.75" fill="none"/>
<path d="M498.2 598.5H505.8" stroke="#a4a4a4" stroke-width="0.75" fill="none"/>
<path d="M494.5 639.5V603.5H509.5V639.5" fill="#fff" stroke="#ababab" stroke-width="1"/>
<path d="M494 603.5H510" stroke="#999" stroke-width="1"/>
<path d="M400.5 554.5V590.6M400.5 596.9V639.5" stroke="#989898" stroke-width="1" fill="none"/>
<path d="M400.5 639.5H513" stroke="#b4b4b4" stroke-width="0.9" fill="none"/>
<path d="M398 554.5H400.5M398 572.25H400.5M398 590.6H400.5M398 596.9H400.5M398 609H400.5M398 624.25H400.5M398 639.5H400.5" stroke="#a8a8a8" stroke-width="0.85" fill="none"/>
<path d="M411.75 639.5V642.9M434.25 639.5V642.9M456.75 639.5V642.9M479.25 639.5V642.9M502 639.5V642.9" stroke="#8a8a8a" stroke-width="0.8" fill="none"/>
<path d="M398.5 590.6H401.8M398.5 596.9H401.8" stroke="#666" stroke-width="0.9" fill="none"/>
<rect x="404" y="634.5" width="15.5" height="5.3" fill="#000"/>
<path d="M434.25 613.5V605" stroke="#606060" stroke-width="0.7" fill="none"/>
<path d="M430.45 605H438.05" stroke="#6c6c6c" stroke-width="0.7" fill="none"/>
<rect x="426.5" y="613.5" width="15.5" height="26.3" fill="#000"/>
<rect x="449" y="632.5" width="15.5" height="7.3" fill="#000"/>
<g font-size="5.28" text-anchor="end">
<text x="395.3" y="556.24">0.03</text>
<text x="395.3" y="573.99">0.02</text>
<text x="395.3" y="592.34">0.01</text>
<text x="394.1" y="610.74">0.0050</text>
<text x="394.1" y="625.99">0.0025</text>
<text x="394.1" y="641.24">0.0000</text>
</g>
<text font-size="6.2" text-anchor="middle" transform="translate(374.55 595.6) rotate(-90)">SPHK1 (AU)</text>
<g class="xl" font-size="5.3" text-anchor="end">
<text transform="translate(412.95 650.2) rotate(-45)">CTL</text>
<text transform="translate(435.45 650.2) rotate(-45)">M1</text>
<text transform="translate(457.95 650.2) rotate(-45)">M2</text>
<text transform="translate(480.45 650.2) rotate(-45)">rM</text>
<text transform="translate(503.2 650.2) rotate(-45)">InfM</text>
</g>
</g>
</svg>
</body>
</html>
